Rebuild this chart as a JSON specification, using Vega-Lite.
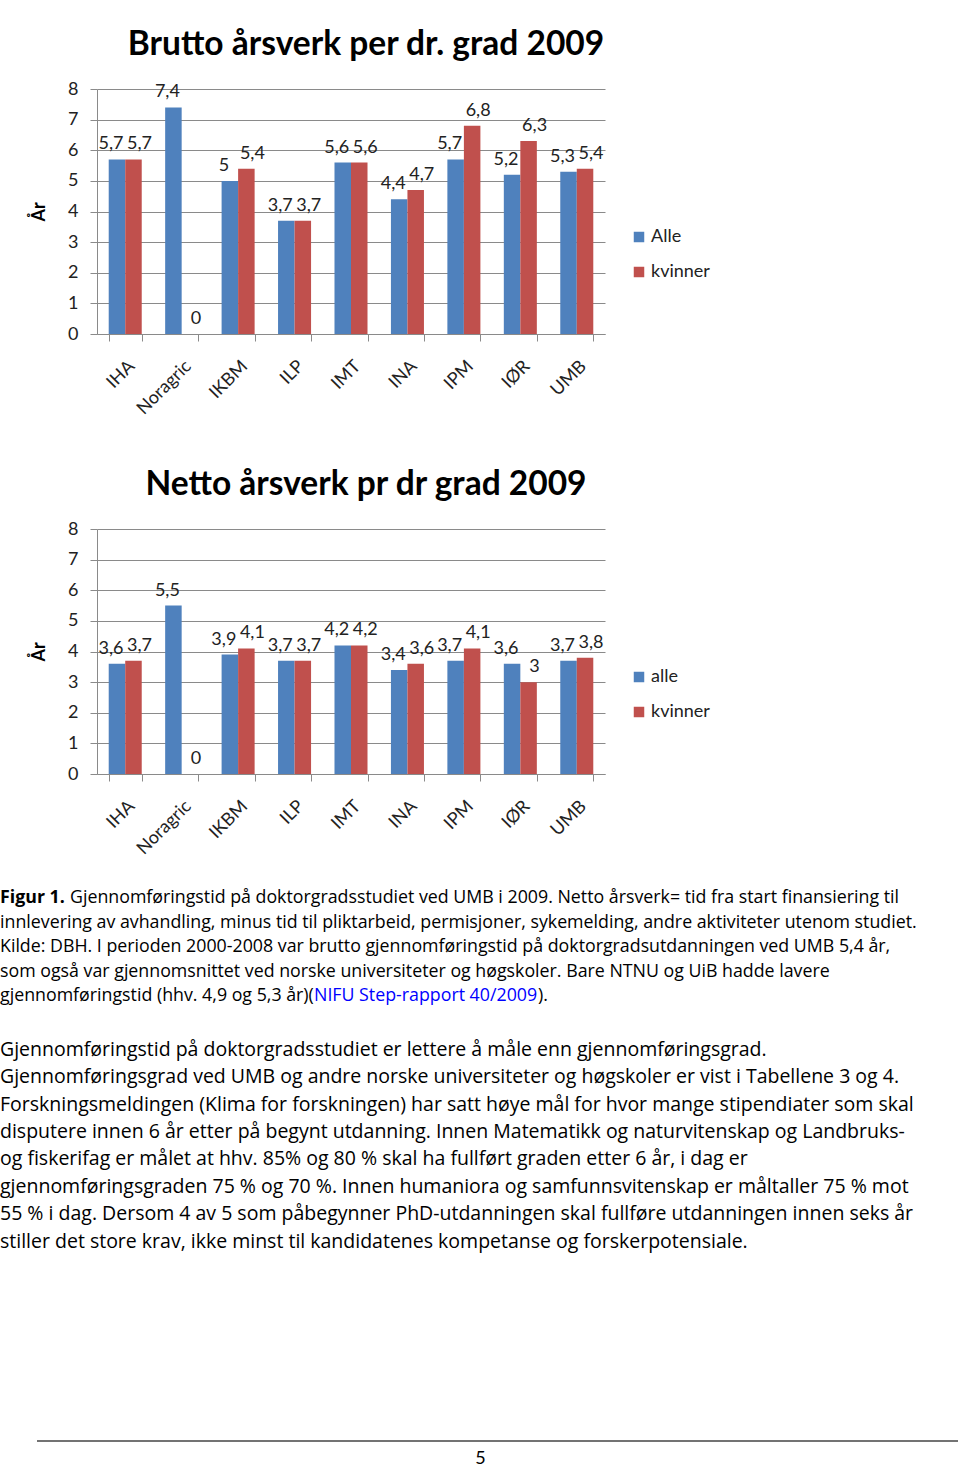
{
  "$schema": "https://vega.github.io/schema/vega-lite/v6.json",
  "background": "white",
  "padding": {"left": 0, "top": 27, "right": 0, "bottom": 0},
  "config": {
    "font": "Lato",
    "view": {"stroke": null},
    "locale": {"number": {"decimal": ",", "thousands": " ", "grouping": [3], "currency": ["", " kr"]}},
    "axis": {"labelFont": "Lato", "titleFont": "Lato", "labelColor": "#222", "domainColor": "#8a8a8a", "tickColor": "#8a8a8a", "gridColor": "#8a8a8a"},
    "legend": {"labelFont": "Lato"}
  },
  "datasets": {
    "brutto": [
      {"inst": "IHA", "serie": "Alle", "value": 5.7}, {"inst": "IHA", "serie": "kvinner", "value": 5.7},
      {"inst": "Noragric", "serie": "Alle", "value": 7.4}, {"inst": "Noragric", "serie": "kvinner", "value": 0},
      {"inst": "IKBM", "serie": "Alle", "value": 5.0}, {"inst": "IKBM", "serie": "kvinner", "value": 5.4},
      {"inst": "ILP", "serie": "Alle", "value": 3.7}, {"inst": "ILP", "serie": "kvinner", "value": 3.7},
      {"inst": "IMT", "serie": "Alle", "value": 5.6}, {"inst": "IMT", "serie": "kvinner", "value": 5.6},
      {"inst": "INA", "serie": "Alle", "value": 4.4}, {"inst": "INA", "serie": "kvinner", "value": 4.7},
      {"inst": "IPM", "serie": "Alle", "value": 5.7}, {"inst": "IPM", "serie": "kvinner", "value": 6.8},
      {"inst": "IØR", "serie": "Alle", "value": 5.2}, {"inst": "IØR", "serie": "kvinner", "value": 6.3},
      {"inst": "UMB", "serie": "Alle", "value": 5.3}, {"inst": "UMB", "serie": "kvinner", "value": 5.4}
    ],
    "netto": [
      {"inst": "IHA", "serie": "alle", "value": 3.6}, {"inst": "IHA", "serie": "kvinner", "value": 3.7},
      {"inst": "Noragric", "serie": "alle", "value": 5.5}, {"inst": "Noragric", "serie": "kvinner", "value": 0},
      {"inst": "IKBM", "serie": "alle", "value": 3.9}, {"inst": "IKBM", "serie": "kvinner", "value": 4.1},
      {"inst": "ILP", "serie": "alle", "value": 3.7}, {"inst": "ILP", "serie": "kvinner", "value": 3.7},
      {"inst": "IMT", "serie": "alle", "value": 4.2}, {"inst": "IMT", "serie": "kvinner", "value": 4.2},
      {"inst": "INA", "serie": "alle", "value": 3.4}, {"inst": "INA", "serie": "kvinner", "value": 3.6},
      {"inst": "IPM", "serie": "alle", "value": 3.7}, {"inst": "IPM", "serie": "kvinner", "value": 4.1},
      {"inst": "IØR", "serie": "alle", "value": 3.6}, {"inst": "IØR", "serie": "kvinner", "value": 3.0},
      {"inst": "UMB", "serie": "alle", "value": 3.7}, {"inst": "UMB", "serie": "kvinner", "value": 3.8}
    ],
    "caption": [
      {"row": 1, "part": "bold", "text": "Figur 1."},
      {"row": 1, "part": "lead", "text": "Gjennomføringstid på doktorgradsstudiet ved UMB i 2009. Netto årsverk= tid fra start finansiering til"},
      {"row": 2, "part": "plain", "text": "innlevering av avhandling, minus tid til pliktarbeid, permisjoner, sykemelding, andre aktiviteter utenom studiet."},
      {"row": 3, "part": "plain", "text": "Kilde: DBH. I perioden 2000-2008 var brutto gjennomføringstid på doktorgradsutdanningen ved UMB 5,4 år,"},
      {"row": 4, "part": "plain", "text": "som også var gjennomsnittet ved norske universiteter og høgskoler. Bare NTNU og UiB hadde lavere"},
      {"row": 5, "part": "plain", "text": "gjennomføringstid (hhv. 4,9 og 5,3 år)("},
      {"row": 5, "part": "link", "text": "NIFU Step-rapport 40/2009"},
      {"row": 5, "part": "tail", "text": ")."}
    ],
    "para": [
      {"row": 1, "text": "Gjennomføringstid på doktorgradsstudiet er lettere å måle enn gjennomføringsgrad."},
      {"row": 2, "text": "Gjennomføringsgrad ved UMB og andre norske universiteter og høgskoler er vist i Tabellene 3 og 4."},
      {"row": 3, "text": "Forskningsmeldingen (Klima for forskningen) har satt høye mål for hvor mange stipendiater som skal"},
      {"row": 4, "text": "disputere innen 6 år etter på begynt utdanning. Innen Matematikk og naturvitenskap og Landbruks-"},
      {"row": 5, "text": "og fiskerifag er målet at hhv. 85% og 80 % skal ha fullført graden etter 6 år, i dag er"},
      {"row": 6, "text": "gjennomføringsgraden 75 % og 70 %. Innen humaniora og samfunnsvitenskap er måltaller 75 % mot"},
      {"row": 7, "text": "55 % i dag. Dersom 4 av 5 som påbegynner PhD-utdanningen skal fullføre utdanningen innen seks år"},
      {"row": 8, "text": "stiller det store krav, ikke minst til kandidatenes kompetanse og forskerpotensiale."}
    ],
    "footer": [{"page": "5"}]
  },
  "resolve": {"scale": {"color": "independent", "xOffset": "independent"}, "legend": {"color": "independent"}},
  "spacing": 184,
  "vconcat": [
    {
      "resolve": {"scale": {"color": "independent", "xOffset": "independent"}, "legend": {"color": "independent"}},
      "spacing": 28,
      "vconcat": [
        {
          "resolve": {"scale": {"color": "independent", "xOffset": "independent"}, "legend": {"color": "independent"}},
          "spacing": 49,
          "vconcat": [
            {
              "resolve": {"scale": {"color": "independent", "xOffset": "independent"}, "legend": {"color": "independent"}},
              "spacing": 29,
              "hconcat": [
                {"width": 1, "height": 1, "data": {"values": []}, "mark": "point", "encoding": {}},
                {
                  "width": 508, "height": 245,
                  "title": {"text": "Brutto årsverk per dr. grad 2009", "fontSize": 33.5, "fontWeight": "bold", "color": "#000", "anchor": "middle", "baseline": "bottom", "offset": -15, "dx": 15},
                  "data": {"name": "brutto"},
                  "encoding": {
                    "x": {"field": "inst", "type": "nominal", "sort": null, "scale": {"paddingInner": 0.415, "paddingOuter": 0.2075},
                      "axis": {"title": null, "labelAngle": -45, "labelFontSize": 18, "tickBand": "extent", "tickSize": 7, "labelPadding": 16, "grid": false}},
                    "xOffset": {"field": "serie", "type": "nominal", "sort": null},
                    "y": {"field": "value", "type": "quantitative", "scale": {"domain": [0, 8]},
                      "axis": {"title": "År", "titleFontSize": 18, "titleFontWeight": "bold", "titleColor": "#000", "titlePadding": 19, "values": [0, 1, 2, 3, 4, 5, 6, 7, 8], "labelFontSize": 18, "labelPadding": 12, "tickSize": 7, "grid": true}}
                  },
                  "layer": [
                    {"mark": {"type": "bar"},
                     "encoding": {"color": {"field": "serie", "type": "nominal", "sort": null, "scale": {"domain": ["Alle", "kvinner"], "range": ["#4F81BD", "#C0504D"]},
                       "legend": {"title": null, "orient": "none", "legendX": 533, "legendY": 139, "padding": 0, "symbolType": "square", "symbolSize": 110, "symbolStrokeWidth": 0, "labelFontSize": 18, "labelColor": "#222", "labelOffset": 3, "rowPadding": 17}}}},
                    {"transform": [{"filter": "datum.serie !== 'kvinner'"}],
                     "mark": {"type": "text", "baseline": "alphabetic", "dy": -10, "dx": -6, "fontSize": 18, "color": "#222"},
                     "encoding": {"text": {"field": "value", "type": "quantitative", "format": "~g"}}},
                    {"transform": [{"filter": "datum.serie === 'kvinner'"}],
                     "mark": {"type": "text", "baseline": "alphabetic", "dy": -10, "dx": 6, "fontSize": 18, "color": "#222"},
                     "encoding": {"text": {"field": "value", "type": "quantitative", "format": "~g"}}}
                  ]
                }
              ]
            },
            {
              "resolve": {"scale": {"color": "independent", "xOffset": "independent"}, "legend": {"color": "independent"}},
              "spacing": 29,
              "hconcat": [
                {"width": 1, "height": 1, "data": {"values": []}, "mark": "point", "encoding": {}},
                {
                  "width": 508, "height": 245,
                  "title": {"text": "Netto årsverk pr dr grad 2009", "fontSize": 33.5, "fontWeight": "bold", "color": "#000", "anchor": "middle", "baseline": "bottom", "offset": -15, "dx": 15},
                  "data": {"name": "netto"},
                  "encoding": {
                    "x": {"field": "inst", "type": "nominal", "sort": null, "scale": {"paddingInner": 0.415, "paddingOuter": 0.2075},
                      "axis": {"title": null, "labelAngle": -45, "labelFontSize": 18, "tickBand": "extent", "tickSize": 7, "labelPadding": 16, "grid": false}},
                    "xOffset": {"field": "serie", "type": "nominal", "sort": null},
                    "y": {"field": "value", "type": "quantitative", "scale": {"domain": [0, 8]},
                      "axis": {"title": "År", "titleFontSize": 18, "titleFontWeight": "bold", "titleColor": "#000", "titlePadding": 19, "values": [0, 1, 2, 3, 4, 5, 6, 7, 8], "labelFontSize": 18, "labelPadding": 12, "tickSize": 7, "grid": true}}
                  },
                  "layer": [
                    {"mark": {"type": "bar"},
                     "encoding": {"color": {"field": "serie", "type": "nominal", "sort": null, "scale": {"domain": ["alle", "kvinner"], "range": ["#4F81BD", "#C0504D"]},
                       "legend": {"title": null, "orient": "none", "legendX": 533, "legendY": 139, "padding": 0, "symbolType": "square", "symbolSize": 110, "symbolStrokeWidth": 0, "labelFontSize": 18, "labelColor": "#222", "labelOffset": 3, "rowPadding": 17}}}},
                    {"transform": [{"filter": "datum.serie !== 'kvinner'"}],
                     "mark": {"type": "text", "baseline": "alphabetic", "dy": -10, "dx": -6, "fontSize": 18, "color": "#222"},
                     "encoding": {"text": {"field": "value", "type": "quantitative", "format": "~g"}}},
                    {"transform": [{"filter": "datum.serie === 'kvinner'"}],
                     "mark": {"type": "text", "baseline": "alphabetic", "dy": -10, "dx": 6, "fontSize": 18, "color": "#222"},
                     "encoding": {"text": {"field": "value", "type": "quantitative", "format": "~g"}}}
                  ]
                }
              ]
            }
          ]
        },
        {
          "spacing": 27,
          "vconcat": [
            {
              "width": 930, "height": 122.5,
              "data": {"name": "caption"},
              "encoding": {
                "x": {"datum": 0, "type": "quantitative", "scale": {"domain": [0, 1]}, "axis": null},
                "y": {"field": "row", "type": "ordinal", "scale": {"type": "point", "padding": 0.5}, "axis": null},
                "text": {"field": "text"}
              },
              "layer": [
                {"transform": [{"filter": "datum.part === 'plain'"}], "mark": {"type": "text", "font": "Open Sans", "align": "left", "baseline": "middle", "fontSize": 17.8, "color": "#000"}},
                {"transform": [{"filter": "datum.part === 'bold'"}], "mark": {"type": "text", "font": "Open Sans", "align": "left", "baseline": "middle", "fontSize": 17.8, "fontWeight": "bold", "color": "#000"}},
                {"transform": [{"filter": "datum.part === 'lead'"}], "mark": {"type": "text", "font": "Open Sans", "align": "left", "baseline": "middle", "fontSize": 17.8, "dx": 70, "color": "#000"}},
                {"transform": [{"filter": "datum.part === 'link'"}], "mark": {"type": "text", "font": "Open Sans", "align": "left", "baseline": "middle", "fontSize": 17.8, "dx": 314, "color": "#0000FF"}},
                {"transform": [{"filter": "datum.part === 'tail'"}], "mark": {"type": "text", "font": "Open Sans", "align": "left", "baseline": "middle", "fontSize": 17.8, "dx": 538, "color": "#000"}}
              ]
            },
            {
              "width": 930, "height": 219.4,
              "data": {"name": "para"},
              "mark": {"type": "text", "font": "Open Sans", "align": "left", "baseline": "middle", "fontSize": 19.5, "color": "#000"},
              "encoding": {
                "x": {"datum": 0, "type": "quantitative", "scale": {"domain": [0, 1]}, "axis": null},
                "y": {"field": "row", "type": "ordinal", "scale": {"type": "point", "padding": 0.5}, "axis": null},
                "text": {"field": "text"}
              }
            }
          ]
        }
      ]
    },
    {
      "spacing": 35,
      "hconcat": [
        {"width": 1, "height": 1, "data": {"values": []}, "mark": "point", "encoding": {}},
        {
          "width": 921, "height": 18,
          "data": {"name": "footer"},
          "layer": [
            {"mark": {"type": "rule", "color": "#444", "strokeWidth": 1.5},
             "encoding": {"y": {"datum": 1, "type": "quantitative", "scale": {"domain": [0, 1]}, "axis": null}}},
            {"mark": {"type": "text", "baseline": "middle", "fontSize": 18, "dx": -17, "color": "#000"},
             "encoding": {"y": {"datum": 0, "type": "quantitative", "scale": {"domain": [0, 1]}, "axis": null}, "text": {"field": "page"}}}
          ]
        }
      ]
    }
  ]
}
